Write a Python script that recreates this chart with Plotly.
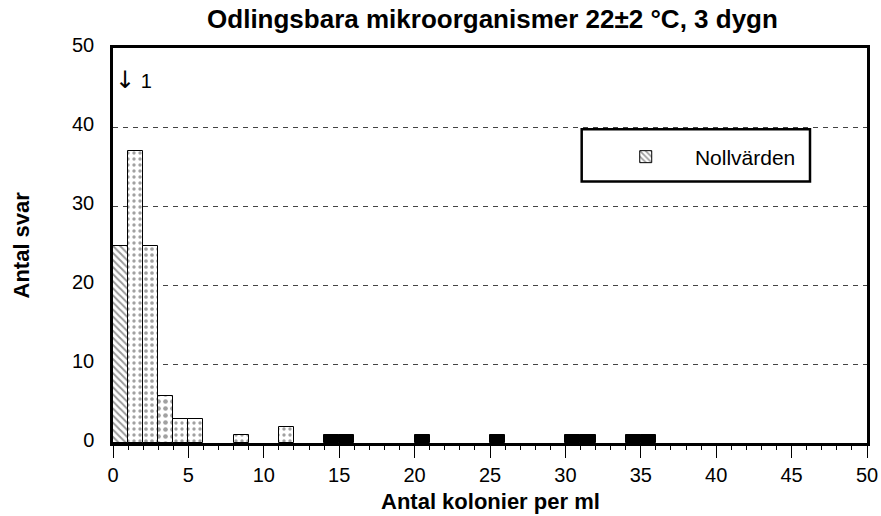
import plotly.graph_objects as go

# Data
zero_bins = [0]
zero_counts = [25]
bins = [1, 2, 3, 4, 5, 8, 11, 14, 15, 20, 25, 30, 31, 34, 35]
counts = [37, 25, 6, 3, 3, 1, 2, 1, 1, 1, 1, 1, 1, 1, 1]
x_ticks = [0, 5, 10, 15, 20, 25, 30, 35, 40, 45, 50]
y_ticks = [0, 10, 20, 30, 40, 50]

FONT = "Liberation Sans, Arial, sans-serif"

# styles: bins >= 14 are solid black, others dotted
shapes_p, fg, sol, sz, fill = [], [], [], [], []
for b in bins:
    if b >= 14:
        shapes_p.append(""); fg.append("black"); sol.append(0.3); sz.append(6); fill.append("black")
    elif b == 3:
        shapes_p.append("."); fg.append("black"); sol.append(0.35); sz.append(7); fill.append("white")
    elif b == 2:
        shapes_p.append("."); fg.append("#444"); sol.append(0.3); sz.append(6); fill.append("white")
    else:
        shapes_p.append("."); fg.append("#666"); sol.append(0.25); sz.append(6); fill.append("white")

fig = go.Figure()
fig.add_trace(go.Bar(
    x=[b + 0.5 for b in zero_bins], y=zero_counts, width=1,
    name="\u00a0\u00a0\u00a0\u00a0\u00a0Nollvärden", showlegend=True,
    marker=dict(color="white", line=dict(color="black", width=1),
                pattern=dict(shape="\\", fgcolor="#333", bgcolor="white", size=5, solidity=0.4)),
))
fig.add_trace(go.Bar(
    x=[b + 0.5 for b in bins], y=counts, width=1, showlegend=False,
    marker=dict(color=fill, line=dict(color="black", width=1),
                pattern=dict(shape=shapes_p, fgcolor=fg, bgcolor=fill, size=sz, solidity=sol)),
))

fig.add_annotation(x=0.0, y=46, xref="x", yref="y",
                   text="<span style='font-family:DejaVu Sans;font-size:24px'>↓</span> 1", showarrow=False,
                   xanchor="left", yanchor="middle", font=dict(family=FONT, size=20, color="black"))

# axis titles
fig.add_annotation(x=0.5, y=-0.148, xref="paper", yref="paper", text="<b>Antal kolonier per ml</b>",
                   showarrow=False, xanchor="center", yanchor="middle",
                   font=dict(family=FONT, size=22, color="black"))
fig.add_annotation(x=-0.122, y=0.5, xref="paper", yref="paper", text="<b>Antal svar</b>",
                   showarrow=False, xanchor="center", yanchor="middle", textangle=-90,
                   font=dict(family=FONT, size=22, color="black"))

# legend box
fig.add_shape(type="rect", xref="paper", yref="paper", x0=0.6216, x1=0.9244, y0=0.662, y1=0.794,
              line=dict(color="black", width=2.5), fillcolor="rgba(0,0,0,0)")

fig.update_layout(
    width=881, height=516,
    margin=dict(l=113, r=14, t=48, b=72.5),
    paper_bgcolor="white", plot_bgcolor="white",
    font=dict(family=FONT, size=20, color="black"),
    title=dict(text="<b>Odlingsbara mikroorganismer 22±2 °C, 3 dygn</b>", x=0.559, xanchor="center",
               y=0.963, yanchor="middle", font=dict(family=FONT, size=26, color="black")),
    barmode="overlay", bargap=0,
    showlegend=True,
    legend=dict(x=0.680, y=0.724, xanchor="left", yanchor="middle", bgcolor="rgba(0,0,0,0)",
                borderwidth=0, font=dict(family=FONT, size=21, color="black")),
    xaxis=dict(range=[0, 50], tickvals=x_ticks, ticks="outside", ticklen=12, tickwidth=1,
               tickcolor="black", showline=True, linecolor="black", linewidth=2.5, mirror=True,
               showgrid=False, zeroline=False, automargin=False,
               tickfont=dict(family=FONT, size=20),
               minor=dict(dtick=1, ticks="outside", ticklen=4, tickcolor="black", tickwidth=1)),
    yaxis=dict(range=[0, 50], tickvals=y_ticks, ticks="", showline=True, linecolor="black",
               linewidth=2.5, mirror=True, showgrid=True, gridcolor="#444", gridwidth=1,
               griddash="5px,5px", zeroline=False, automargin=False, ticklabelstandoff=12,
               ticklabelshift=-3, tickfont=dict(family=FONT, size=20)),
)

fig.write_html("out.html", config={"displayModeBar": False},
               post_script="document.body.style.margin='0';document.body.style.overflow='hidden';")
